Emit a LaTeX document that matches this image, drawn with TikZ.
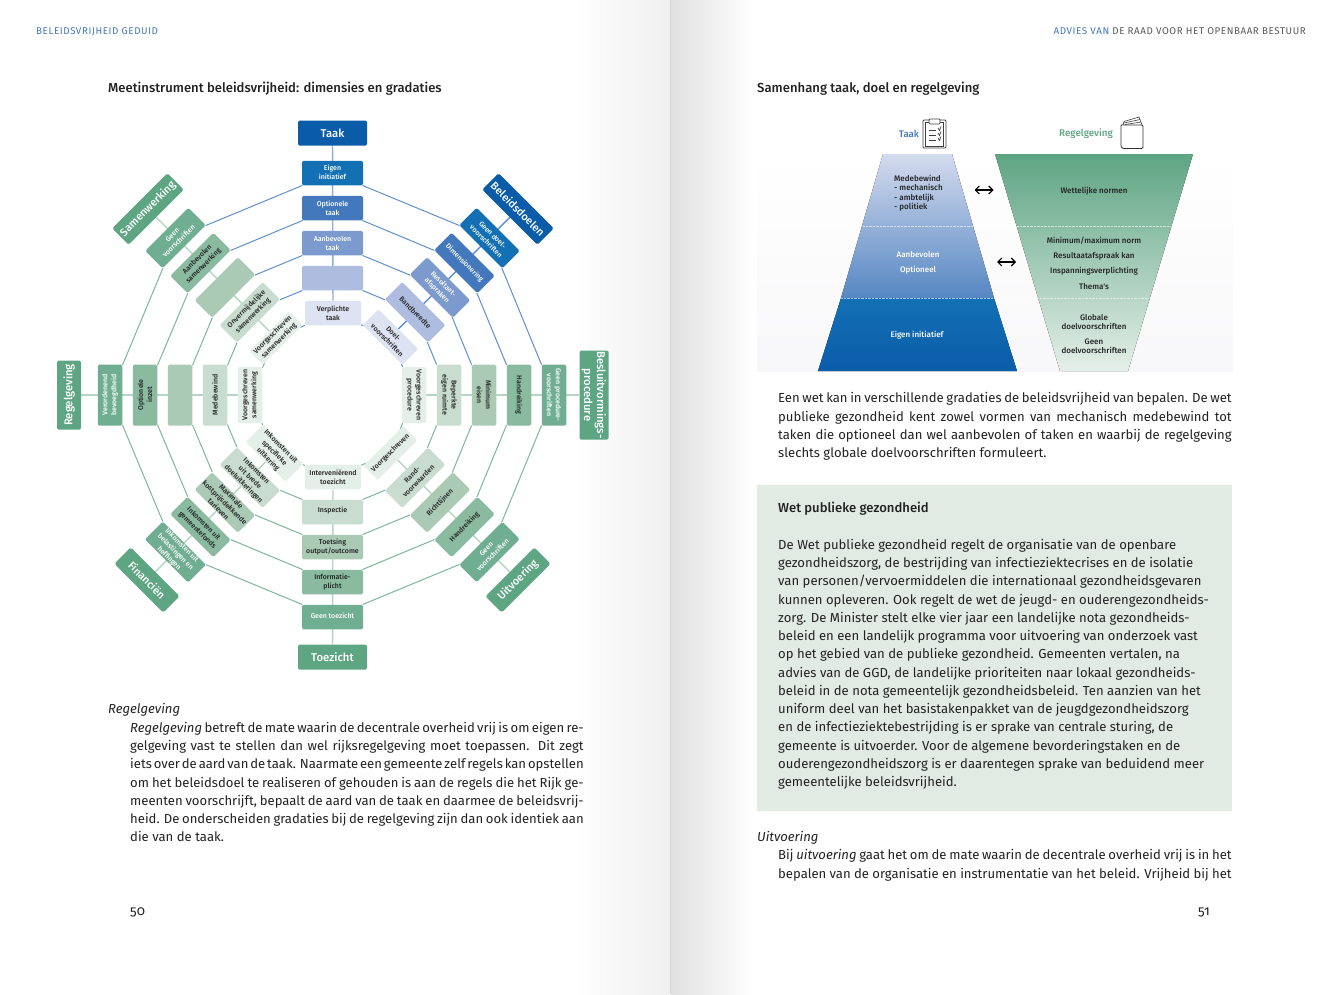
\documentclass[tikz,border=0pt]{standalone}
\usepackage{fontspec}
\setmainfont{Fira Sans}
\newfontfamily\medfont{Fira Sans Medium}
\newfontfamily\oldfont[Numbers=OldStyle]{Fira Sans}
\usetikzlibrary{arrows.meta,backgrounds}

\definecolor{bluehd}{HTML}{0A5CA8}
\definecolor{blueE}{HTML}{1470B5}
\definecolor{blueD}{HTML}{4379BC}
\definecolor{blueC}{HTML}{7C9ACD}
\definecolor{blueB}{HTML}{AEBDDF}
\definecolor{blueA}{HTML}{DDE3F2}
\definecolor{bluel}{HTML}{5F90CF}
\definecolor{greenhd}{HTML}{5EA583}
\definecolor{greenE}{HTML}{70AE91}
\definecolor{greenD}{HTML}{8ABBA0}
\definecolor{greenC}{HTML}{ABCAB6}
\definecolor{greenB}{HTML}{C8DDCF}
\definecolor{greenA}{HTML}{E5EFE9}
\definecolor{greenl}{HTML}{7DB89E}
\definecolor{greensp}{HTML}{B7D5C5}
\definecolor{bluesp}{HTML}{8FAEDC}
\definecolor{ink}{HTML}{222222}
\definecolor{boxbg}{HTML}{E1EBE4}
\newcommand{\jline}[1]{\hbox to 453.5pt{\spaceskip=.25em plus .6em minus .2em\relax #1}}

\begin{document}
\begin{tikzpicture}[x=1pt,y=-1pt,
    hd/.style={font=\medfont\fontsize{11.3}{13}\selectfont, text=white, inner sep=0, rounded corners=1.5pt, align=center},
    hdd/.style={hd, font=\medfont\fontsize{10.9}{13}\selectfont, minimum height=23pt},
    val/.style={font=\medfont\fontsize{7}{9}\selectfont, minimum width=61pt, minimum height=24.5pt,
                inner sep=0, rounded corners=1.5pt, align=center, text=ink},
    inn/.style={val, minimum width=56pt},
    lbl/.style={font=\medfont\fontsize{8}{9.5}\selectfont, text=ink, inner sep=0, align=center},
    body/.style={font=\fontsize{13.1}{18.25}\selectfont, text=ink, inner sep=0, anchor=north west, align=left},
    kop/.style={font=\itshape\fontsize{13.1}{15}\selectfont, text=ink, inner sep=0, anchor=west},
    num/.style={font=\oldfont\fontsize{13.5}{15}\selectfont, text=ink, inner sep=0, anchor=west},
    title/.style={font=\medfont\fontsize{13.1}{16}\selectfont, text=ink, inner sep=0, anchor=west},
    run/.style={font=\addfontfeatures{LetterSpace=6}\fontsize{9.8}{11}\selectfont, inner sep=0},
    ringl/.style={line width=1pt},
    spokel/.style={line width=1.4pt},
    twoway/.style={{Straight Barb[length=4pt,width=8pt]}-{Straight Barb[length=4pt,width=8pt]}, line width=1.2pt}
  ]
  \useasboundingbox (0,0) rectangle (1340,994);

  % ---- page and shadows ----
  \begin{pgfonlayer}{background}
    \fill[white] (0,0) rectangle (1340,994);
    \fill[left color=white, right color=black!6] (570,0) rectangle (670,994);
    \fill[right color=white, left color=black!12] (671,0) rectangle (752,994);
    \fill[black!17] (670,0) rectangle (671,994);
  \end{pgfonlayer}

  % ---- running heads ----
  \node[run, text=blueD, anchor=west] (headl) at (36,31.5) {BELEIDSVRIJHEID GEDUID};
  \node[run, text=black!65, anchor=east] (headr) at (1306,31.5)
    {\textcolor{blueD}{ADVIES VAN} DE RAAD VOOR HET OPENBAAR BESTUUR};

  % ---- left page title ----
  \node[title] (titlel) at (108,88.5) {Meetinstrument beleidsvrijheid: dimensies en gradaties};

  % ---- Taak ----
  \node[hd, fill=bluehd, minimum width=69pt, minimum height=25pt] (taak0) at (332.5,133) {Taak};
  \node[val, fill=blueE, text=white] (taak5) at (332.5,173) {\raisebox{1pt}{\shortstack{Eigen\\[-1pt]initiatief}}};
  \node[val, fill=blueD, text=white] (taak4) at (332.5,208) {Optionele\\taak};
  \node[val, fill=blueC, text=white] (taak3) at (332.5,243) {Aanbevolen\\taak};
  \node[val, fill=blueB] (taak2) at (332.5,278) {};
  \node[inn, fill=blueA] (taak1) at (333,313) {Verplichte\\taak};

  % ---- Beleidsdoelen ----
  \node[hdd, fill=bluehd, rotate=-45, minimum width=78pt] (bel0) at (518,209) {Beleidsdoelen};
  \node[val, fill=blueE, text=white, rotate=-45] (bel5) at (489.5,238) {Geen doel-\\voorschriften};
  \node[val, fill=blueD, text=white, rotate=-45] (bel4) at (464.5,263) {Dimensionering};
  \node[val, fill=blueC, text=white, rotate=-45] (bel3) at (440,287.5) {Resultaat-\\afspraken};
  \node[val, fill=blueB, rotate=-45] (bel2) at (415.2,312.3) {Bandbreedte};
  \node[inn, fill=blueA, rotate=-45, minimum height=22pt] (bel1) at (390.5,337) {Doel-\\voorschriften};

  % ---- Besluitvormingsprocedure ----
  \node[hd, fill=greenhd, rotate=-90, minimum width=89pt, minimum height=29pt] (bes0) at (594,395) {Besluitvormings-\\procedure};
  \node[val, fill=greenE, text=white, rotate=-90] (bes5) at (554,395) {Geen procedure-\\voorschriften};
  \node[val, fill=greenD, rotate=-90] (bes4) at (519,395) {Handreiking};
  \node[val, fill=greenC, rotate=-90] (bes3) at (484,395) {Minimum\\eisen};
  \node[val, fill=greenB, rotate=-90] (bes2) at (449,395) {Beperkte\\eigen ruimte};
  \node[inn, fill=greenA, rotate=-90] (bes1) at (414,395) {Voorgeschreven\\procedure};

  % ---- Uitvoering ----
  \node[hdd, fill=greenhd, rotate=45, minimum width=69pt] (uit0) at (518,580) {Uitvoering};
  \node[val, fill=greenE, text=white, rotate=45] (uit5) at (489.5,552) {Geen\\voorschriften};
  \node[val, fill=greenD, rotate=45] (uit4) at (464.5,527) {Handreiking};
  \node[val, fill=greenC, rotate=45] (uit3) at (440,502.5) {Richtlijnen};
  \node[val, fill=greenB, rotate=45] (uit2) at (415.2,477.7) {Rand-\\voorwaarden};
  \node[inn, fill=greenA, rotate=45, minimum height=20pt] (uit1) at (390.5,453) {Voorgeschreven};

  % ---- Toezicht ----
  \node[hd, fill=greenhd, minimum width=69pt, minimum height=25pt] (toe0) at (332.5,657) {Toezicht};
  \node[val, fill=greenE, text=white] (toe5) at (332.5,617) {\raisebox{2pt}{Geen toezicht}};
  \node[val, fill=greenD] (toe4) at (332.5,582) {Informatie-\\plicht};
  \node[val, fill=greenC] (toe3) at (332.5,547) {Toetsing\\output/outcome};
  \node[val, fill=greenB] (toe2) at (332.5,512) {\raisebox{4pt}{Inspectie}};
  \node[inn, fill=greenA] (toe1) at (333,477) {Interveniërend\\toezicht};

  % ---- Financien ----
  \node[hdd, fill=greenhd, rotate=-45, minimum width=69pt] (fin0) at (147,580) {Financiën};
  \node[val, fill=greenE, text=white, rotate=-45] (fin5) at (175.5,552) {Inkomsten uit\\belastingen en\\heffingen};
  \node[val, fill=greenD, rotate=-45] (fin4) at (200.5,527) {Inkomsten uit\\gemeentefonds};
  \node[val, fill=greenC, rotate=-45] (fin3) at (225,502.5) {Maximale\\kostprijsdekkende\\tarieven};
  \node[val, fill=greenB, rotate=-45] (fin2) at (249.8,477.7) {Inkomsten\\uit brede\\doeluitkeringen};
  \node[inn, fill=greenA, rotate=-45, minimum height=23pt] (fin1) at (274.5,453) {Inkomsten uit\\specifieke\\uitkering};

  % ---- Regelgeving ----
  \node[hd, fill=greenhd, rotate=90, minimum width=69pt, minimum height=24pt] (reg0) at (69,395) {Regelgeving};
  \node[val, fill=greenE, text=white, rotate=90] (reg5) at (110,395) {Verordenend\\bevoegdheid};
  \node[val, fill=greenD, rotate=90] (reg4) at (145,395) {Optionele\\inzet};
  \node[val, fill=greenC, rotate=90] (reg3) at (180,395) {};
  \node[val, fill=greenB, rotate=90] (reg2) at (215,395) {Medebewind};
  \node[inn, fill=greenA, rotate=90] (reg1) at (250,395) {Voorgeschreven\\samenwerking};

  % ---- Samenwerking ----
  \node[hdd, fill=greenhd, rotate=45, minimum width=78pt] (sam0) at (148,209) {Samenwerking};
  \node[val, fill=greenE, text=white, rotate=45] (sam5) at (175.5,238) {Geen\\voorschriften};
  \node[val, fill=greenD, rotate=45] (sam4) at (200.5,263) {Aanbevolen\\samenwerking};
  \node[val, fill=greenC, rotate=45] (sam3) at (225,287.5) {};
  \node[val, fill=greenB, rotate=45] (sam2) at (249.8,312.3) {Onvermijdelijke\\samenwerking};
  \node[inn, fill=greenA, rotate=45, minimum height=19pt] (sam1) at (276,338) {Voorgeschreven\\samenwerking};

  % ---- spokes and rings ----
  \begin{pgfonlayer}{background}
    \foreach \s/\c in {taak/bluesp, bel/bluel, bes/greensp, uit/greensp, toe/greensp, fin/greensp, reg/greensp, sam/greensp}
      \draw[spokel, \c] (\s0) -- (\s1);
    \foreach \r in {1,...,5}{
      \foreach \a/\b/\c in {taak/bel/bluel, bel/bes/bluel, taak/sam/bluel, bes/uit/greenl, uit/toe/greenl,
                            toe/fin/greenl, fin/reg/greenl, reg/sam/greenl}
        \draw[ringl, \c] (\a\r) -- (\b\r);
    }
  \end{pgfonlayer}

  % ---- left page text ----
  \node[kop] (kopl) at (108,710) {Regelgeving};
  \node[body] (bodyl) at (130,722)
    {\jline{\textit{Regelgeving} betreft de mate waarin de decentrale overheid vrij is om eigen re-}\\
     \jline{gelgeving vast te stellen dan wel rijksregelgeving moet toepassen. Dit zegt}\\
     \jline{iets over de aard van de taak. Naarmate een gemeente zelf regels kan opstellen}\\
     \jline{om het beleidsdoel te realiseren of gehouden is aan de regels die het Rijk ge-}\\
     \jline{meenten voorschrijft, bepaalt de aard van de taak en daarmee de beleidsvrij-}\\
     \jline{heid. De onderscheiden gradaties bij de regelgeving zijn dan ook identiek aan}\\
     die van de taak.};
  \node[num] (numl) at (130,912.5) {50};

  % ---- right page title and panel ----
  \node[title] (titler) at (757,88.5) {Samenhang taak, doel en regelgeving};
  \fill[top color=white, bottom color=blue!25!black!3!white] (757,155) rectangle (1233,371);

  % ---- pyramid and funnel ----
  \fill[top color=blueA!80!blueB, bottom color=blueD!90] (883,154) -- (952,154) -- (994,298) -- (841,298) -- cycle;
  \fill[top color=blueE, bottom color=bluehd] (841,298) -- (994,298) -- (1017,371) -- (818,371) -- cycle;
  \fill[top color=greenhd, bottom color=greenA] (995,154) -- (1193,154) -- (1128,371) -- (1060,371) -- cycle;
  \draw[white, densely dotted, line width=0.4pt, opacity=0.6] (863,226) -- (1171,226);
  \draw[white, densely dotted, line width=0.4pt, opacity=0.6] (841,298) -- (1149,298);

  \node[lbl, text=blueD, font=\medfont\fontsize{9.6}{11}\selectfont] (lbtaak) at (909,134) {Taak};
  \node[lbl, text=greenhd, font=\medfont\fontsize{9.8}{11}\selectfont] (lbreg) at (1086,134) {Regelgeving};
  \node[lbl, align=left, anchor=west] (lbmede) at (894,193) {Medebewind\\- mechanisch\\- ambtelijk\\- politiek};
  \node[lbl, text=white] (lbaanb) at (918,255) {Aanbevolen};
  \node[lbl, text=white] (lbopt) at (918,270) {Optioneel};
  \node[lbl, text=white] (lbeig) at (917,335) {Eigen initiatief};
  \node[lbl] (lbwet) at (1094,191) {Wettelijke normen};
  \node[lbl] (lbmin) at (1094,241) {Minimum/maximum norm};
  \node[lbl] (lbres) at (1094,256.5) {Resultaatafspraak kan};
  \node[lbl] (lbins) at (1094,271.5) {Inspanningsverplichting};
  \node[lbl] (lbthe) at (1094,287) {Thema's};
  \node[lbl] (lbglo) at (1094,322) {Globale\\doelvoorschriften};
  \node[lbl] (lbgee) at (1094,346) {Geen\\doelvoorschriften};

  % ---- two way arrows ----
  \coordinate (aa) at (974.5,190);
  \coordinate (ab) at (993.5,190);
  \coordinate (ac) at (997,262);
  \coordinate (ad) at (1016,262);
  \draw[twoway] (aa) -- (ab);
  \draw[twoway] (ac) -- (ad);

  % ---- clipboard ----
  \draw[black!75, line width=0.8pt, rounded corners=1pt, fill=white] (923,120) rectangle (946,148);
  \draw[black!75, line width=0.6pt] (925.5,122) rectangle (943.5,146);
  \draw[black!75, line width=0.7pt, rounded corners=1pt, fill=white] (929,119) rectangle (940,124);
  \draw[black!75, line width=0.7pt] (929,130) -- (936,130) (929,135) -- (936,135) (929,140) -- (936,140);
  \draw[black!75, line width=0.7pt] (938,128) -- (939.5,130.5) -- (941,126.5)
    (938,133) -- (939.5,135.5) -- (941,131.5) (938,138) -- (939.5,140.5) -- (941,136.5);

  % ---- book ----
  \draw[black!75, line width=0.6pt, fill=white] (1123,125) -- (1124,121.5) -- (1139,117) -- (1142,125);
  \draw[black!75, line width=0.6pt] (1124,123) -- (1140,119.5) (1125,124.5) -- (1141,122);
  \draw[black!80, line width=0.8pt, rounded corners=1.2pt, fill=white] (1124,125) -- (1143,125) -- (1143,148.5) -- (1124,148.5)
    .. controls (1121,148) and (1121,146) .. (1121,144) -- (1121,127) .. controls (1121,125) and (1122,124) .. (1124,125);

  % ---- right page text ----
  \node[body] (bodyr) at (778,392.5)
    {\jline{Een wet kan in verschillende gradaties de beleidsvrijheid van bepalen. De wet}\\
     \jline{publieke gezondheid kent zowel vormen van mechanisch medebewind tot}\\
     \jline{taken die optioneel dan wel aanbevolen of taken en waarbij de regelgeving}\\
     slechts globale doelvoorschriften formuleert.};

  \fill[boxbg] (757,485) rectangle (1232,811);
  \node[title] (kopbox) at (778,508.5) {Wet publieke gezondheid};
  \node[body] (bodybox) at (778,539)
    {De Wet publieke gezondheid regelt de organisatie van de openbare\\
     gezondheidszorg, de bestrijding van infectieziektecrises en de isolatie\\
     van personen/vervoermiddelen die internationaal gezondheidsgevaren\\
     kunnen opleveren. Ook regelt de wet de jeugd- en ouderengezondheids-\\
     zorg. De Minister stelt elke vier jaar een landelijke nota gezondheids-\\
     beleid en een landelijk programma voor uitvoering van onderzoek vast\\
     op het gebied van de publieke gezondheid. Gemeenten vertalen, na\\
     advies van de GGD, de landelijke prioriteiten naar lokaal gezondheids-\\
     beleid in de nota gemeentelijk gezondheidsbeleid. Ten aanzien van het\\
     uniform deel van het basistakenpakket van de jeugdgezondheidszorg\\
     en de infectieziektebestrijding is er sprake van centrale sturing, de\\
     gemeente is uitvoerder. Voor de algemene bevorderingstaken en de\\
     ouderengezondheidszorg is er daarentegen sprake van beduidend meer\\
     gemeentelijke beleidsvrijheid.};

  \node[kop] (kopr) at (757,838) {Uitvoering};
  \node[body] (bodyu) at (778,849.5)
    {\jline{Bij \textit{uitvoering} gaat het om de mate waarin de decentrale overheid vrij is in het}\\
     \jline{bepalen van de organisatie en instrumentatie van het beleid. Vrijheid bij het}};
  \node[num] (numr) at (1198,912.5) {51};
\end{tikzpicture}
\end{document}
